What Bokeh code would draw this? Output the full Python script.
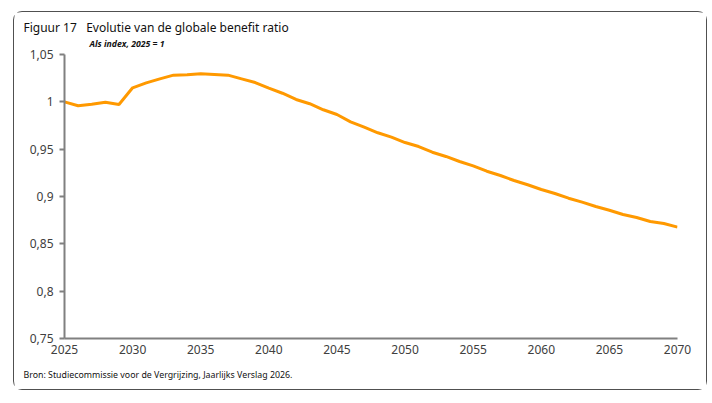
from bokeh.plotting import figure
from bokeh.models import Range1d, FixedTicker, Title
from bokeh.embed import file_html
from bokeh.resources import INLINE

years = list(range(2025, 2071))
benefit_ratio = [
    1.000, 0.9958, 0.9975, 0.9996, 0.9972, 1.0148, 1.0200, 1.0243, 1.0282, 1.0285,
    1.0296, 1.0289, 1.0282, 1.0243, 1.0204, 1.0144, 1.0091, 1.0025, 0.9980, 0.9916,
    0.9866, 0.9789, 0.9732, 0.9673, 0.9627, 0.9570, 0.9528, 0.9468, 0.9423, 0.9370,
    0.9324, 0.9267, 0.9222, 0.9169, 0.9124, 0.9074, 0.9032, 0.8982, 0.8940, 0.8894,
    0.8855, 0.8810, 0.8778, 0.8736, 0.8715, 0.8676,
]
y_ticks = [0.75, 0.80, 0.85, 0.90, 0.95, 1.00, 1.05]
y_tick_labels = ["0,75", "0,8", "0,85", "0,9", "0,95", "1", "1,05"]
x_ticks = list(range(2025, 2071, 5))

fig_title = "Figuur 17\u00a0\u00a0\u00a0Evolutie van de globale benefit ratio"
fig_subtitle = "Als index, 2025 = 1"
fig_source = "Bron: Studiecommissie voor de Vergrijzing, Jaarlijks Verslag 2026."

FONT = "Noto Sans"

p = figure(width=694, height=379, output_backend="svg", toolbar_location=None,
           x_range=Range1d(2025, 2070), y_range=Range1d(0.75, 1.05),
           min_border_left=50, min_border_right=31, min_border_top=42, min_border_bottom=53,
           title=None)
p.margin = (11, 0, 0, 13)
p.styles = {"border": "1px solid #505050", "border-radius": "9px"}
p.outline_line_color = None
p.grid.visible = False
p.background_fill_color = "white"
p.border_fill_color = "white"

p.line(years, benefit_ratio, line_color="#FF9900", line_width=3)

# axes
p.yaxis.ticker = FixedTicker(ticks=y_ticks)
p.yaxis.major_label_overrides = {t: l for t, l in zip(y_ticks, y_tick_labels)}
p.xaxis.ticker = FixedTicker(ticks=x_ticks)
for ax in (p.xaxis[0], p.yaxis[0]):
    ax.axis_line_color = "#808080"
    ax.axis_line_width = 2
    ax.major_tick_line_color = "#808080"
    ax.major_tick_line_width = 2
    ax.minor_tick_line_color = None
    ax.major_label_text_font = FONT
    ax.major_label_text_font_size = "12px"
    ax.major_label_text_color = "#404040"
p.yaxis.major_tick_out = 5
p.yaxis.major_tick_in = 0
p.yaxis.major_label_standoff = 6
p.xaxis.major_tick_out = 0
p.xaxis.major_tick_in = 0
p.xaxis.major_label_standoff = 6

sub = Title(text=fig_subtitle, align="left", offset=25, standoff=10,
            text_font=FONT, text_font_size="8.7px", text_font_style="bold italic",
            text_color="#111111")
p.add_layout(sub, "above")
main = Title(text=fig_title, align="left", offset=-41, standoff=-11,
             text_font=FONT, text_font_size="12px", text_font_style="normal",
             text_color="#111111")
p.add_layout(main, "above")
src = Title(text=fig_source, align="left", offset=-41, standoff=20,
            text_font=FONT, text_font_size="8.8px", text_font_style="normal",
            text_color="#111111")
p.add_layout(src, "below")

open("out.html", "w").write(file_html(p, INLINE))
